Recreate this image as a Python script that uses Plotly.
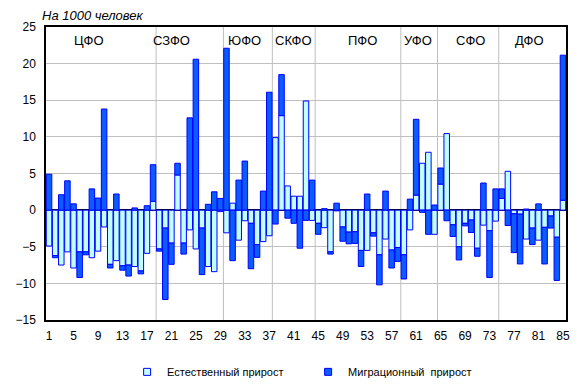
import plotly.graph_objects as go

# ---- data ----
regions = list(range(1, 86))

natural = [
    -4.9, -6.2, -7.5, -5.7, -7.9, -5.7, -5.7, -6.5, -5.6, -2.3, -7.4, -6.9, -7.6, -7.5, -7.7, -8.3, -5.9, 1.2,
    -5.3, -2.45, -4.5, 4.8, -4.5, -2.7, -5.3, -2.45, -7.7, -8.4, -0.2,
    -3.1, 0.95, -4.1, -1.45, -1.8, -4.7, -4.3, -3.5,
    9.9, 12.9, 3.3, 1.9, 1.9, 14.9, -1.4,
    -1.8, -2.4, -5.7, -0.1, -2.3, -3.0, -2.95, -5.5, -5.5, -3.1, -6.1, -3.95, -5.45, -5.1,
    -6.1, -2.7, 2.05, 6.4, 7.9, -3.3,
    3.55, 10.45, -2.0, -5.0, -1.8, -1.35, -5.2, -2.05, -2.8, -1.5,
    1.6, 5.3, -0.5, -0.55, -3.95, -2.45, -4.1, -2.35, -0.8, -3.7, 1.35,
]

migration = [
    4.9, -0.3, 2.1, 4.0, 0.86, -3.5, -0.4, 2.9, 1.65, 13.8, -0.5, 2.2, -0.6, -1.5, 0.3, -0.4, 0.6, 5.0,
    -0.3, -9.75, -2.9, 1.6, -1.5, 12.6, 20.6, -6.35, 0.8, 2.5, 1.6,
    22.1, -6.9, 4.1, 6.7, -6.2, -1.75, 2.6, 16.1,
    -1.9, 5.6, -1.1, -1.8, -5.2, -1.4, 4.1,
    -1.5, 0.2, -0.3, 0.95, -1.95, -1.6, -1.6, -2.2, 2.2, -0.45, -4.1, 2.6, -2.45, -1.9,
    -3.3, 1.5, 10.35, -0.3, -3.3, 0.7,
    2.2, -1.45, -1.6, -1.8, -0.35, -1.7, -1.1, 3.7, -6.4, 2.9,
    1.3, -2.1, -5.3, -6.8, 0.15, -2.25, 0.85, -5.0, -1.65, -5.9, 19.8,
]

district_names = ["ЦФО", "СЗФО", "ЮФО", "СКФО", "ПФО", "УФО", "СФО", "ДФО"]
district_last = [18, 29, 37, 44, 58, 64, 74, 85]
district_label_x = [7.5, 21.0, 32.9, 40.9, 52.2, 61.3, 69.9, 79.6]

x_ticks = [1, 5, 9, 13, 17, 21, 25, 29, 33, 37, 41, 45, 49, 53, 57, 61, 65, 69, 73, 77, 81, 85]
y_ticks = [-15, -10, -5, 0, 5, 10, 15, 20, 25]

series_names = ["Естественный прирост", "Миграционный\u00a0 прирост"]
series_colors = ["#C0FFFF", "#0A5CFF"]

# ---- figure ----
FONT = "Liberation Sans, Arial, sans-serif"
EDGE = "#0000FF"

fig = go.Figure()
for vals, name, col in zip([natural, migration], series_names, series_colors):
    fig.add_bar(x=regions, y=vals, name=name, legendgroup=name, showlegend=False,
                marker=dict(color=col, line=dict(color=EDGE, width=1)))
# legend keys (small squares like the original)
for name, col in zip(series_names, series_colors):
    fig.add_scatter(x=[None], y=[None], mode="markers", name=name, legendgroup=name,
                    marker=dict(symbol="square", size=7, color=col, line=dict(color=EDGE, width=1)))

shapes = []
for last in district_last[:-1]:
    shapes.append(dict(type="line", xref="x", yref="paper", x0=last + 0.5, x1=last + 0.5,
                       y0=-0.006, y1=1, line=dict(color="#BFBFBF", width=1), layer="below"))

annotations = [dict(text="<i>На 1000 человек</i>", xref="paper", yref="paper", x=-0.012, y=1.04,
                    xanchor="left", yanchor="middle", showarrow=False,
                    font=dict(family=FONT, size=13, color="black"))]
for name, lx in zip(district_names, district_label_x):
    annotations.append(dict(text=name, xref="x", yref="paper", x=lx, y=0.954,
                            xanchor="center", yanchor="middle", showarrow=False,
                            font=dict(family=FONT, size=13, color="black")))

fig.update_layout(
    width=581, height=391,
    margin=dict(l=46, r=15, t=27, b=71, autoexpand=False),
    barmode="relative", bargap=0.1,
    plot_bgcolor="white", paper_bgcolor="white",
    font=dict(family=FONT, size=12, color="black"),
    shapes=shapes, annotations=annotations,
    legend=dict(orientation="h", x=0.156, y=-0.177, xanchor="left", yanchor="middle",
                font=dict(family=FONT, size=11), entrywidth=136, entrywidthmode="pixels",
                traceorder="normal", itemwidth=30),
)
fig.update_xaxes(range=[0.5, 85.5], tickvals=x_ticks, ticktext=[str(t) for t in x_ticks],
                 showgrid=False, showline=True, mirror=True, linecolor="black", linewidth=1.5,
                 ticks="", ticklabelstandoff=4, tickfont=dict(size=12))
fig.update_yaxes(range=[-15, 25], tickvals=y_ticks, showgrid=True, gridcolor="#C0C0C0", gridwidth=1,
                 zeroline=True, zerolinecolor="black", zerolinewidth=1.5,
                 showline=True, mirror=True, linecolor="black", linewidth=1.5,
                 ticks="", ticklabelstandoff=6, tickfont=dict(size=12))

fig.write_html("out.html", config={"displayModeBar": False},
               post_script="document.body.style.margin='0';")
